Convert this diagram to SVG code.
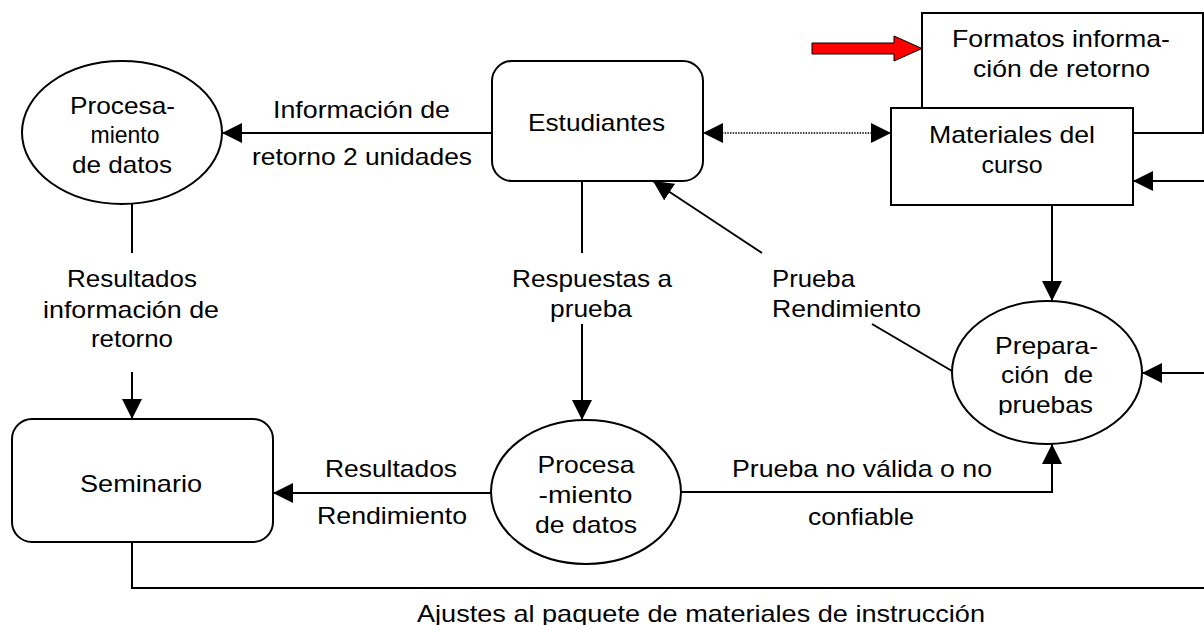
<svg xmlns="http://www.w3.org/2000/svg" width="1204" height="625" viewBox="0 0 1204 625">
<style>
.box{fill:#fff;stroke:#000;stroke-width:2}
.ln{fill:none;stroke:#000;stroke-width:2}
.t{font-family:"Liberation Sans",Arial,sans-serif;font-size:24px;fill:#000;text-anchor:middle}
.l{text-anchor:start}
</style>
<defs>
<marker id="ah" markerUnits="userSpaceOnUse" markerWidth="20" markerHeight="20" refX="20" refY="10" orient="auto-start-reverse" viewBox="0 0 20 20">
<path d="M0,0 L20,10 L0,20 Z" fill="#000" stroke="none"/>
</marker>
<clipPath id="clipPrep"><rect x="950" y="300" width="200" height="115"/></clipPath>
</defs>
<rect width="1204" height="625" fill="#fff"/>

<g id="connectors">
<line class="ln" x1="492" y1="133" x2="222" y2="133" marker-end="url(#ah)"/>
<line class="ln" x1="703" y1="133" x2="891" y2="133" stroke-dasharray="1.5,1.2" marker-start="url(#ah)" marker-end="url(#ah)" style="stroke-width:1.5"/>
<polygon points="812,43 894,43 894,36 922,48.5 894,61 894,54 812,54" fill="#f00" stroke="#000" stroke-width="1"/>
<line class="ln" x1="1052" y1="205" x2="1052" y2="301" marker-end="url(#ah)"/>
<line class="ln" x1="1204" y1="181" x2="1133" y2="181" marker-end="url(#ah)"/>
<line class="ln" x1="1204" y1="373" x2="1142" y2="373" marker-end="url(#ah)"/>
<line class="ln" x1="952" y1="371" x2="872" y2="324"/>
<line class="ln" x1="762" y1="253" x2="653" y2="181" marker-end="url(#ah)"/>
<line class="ln" x1="582" y1="181" x2="582" y2="253"/>
<line class="ln" x1="582" y1="324" x2="582" y2="420" marker-end="url(#ah)"/>
<line class="ln" x1="132" y1="204" x2="132" y2="253"/>
<line class="ln" x1="132" y1="372" x2="132" y2="419" marker-end="url(#ah)"/>
<line class="ln" x1="491" y1="493" x2="273" y2="493" marker-end="url(#ah)"/>
<polyline class="ln" points="681,492 1052,492 1052,444" marker-end="url(#ah)"/>
<polyline class="ln" points="132,542 132,588 1204,588"/>
</g>

<g id="procesamiento-1">
<ellipse class="box" cx="122" cy="132.5" rx="100" ry="71.5"/>
<text class="t" x="122.5" y="114" textLength="105" lengthAdjust="spacingAndGlyphs">Procesa-</text>
<text class="t" x="125" y="143" textLength="69" lengthAdjust="spacingAndGlyphs">miento</text>
<text class="t" x="122" y="173" textLength="100" lengthAdjust="spacingAndGlyphs">de datos</text>
</g>

<g id="estudiantes">
<rect class="box" x="492" y="61" width="211" height="120" rx="20"/>
<text class="t" x="596.5" y="131" textLength="137" lengthAdjust="spacingAndGlyphs">Estudiantes</text>
</g>

<g id="formatos">
<rect class="box" x="922" y="13" width="281" height="120"/>
<text class="t" x="1061" y="47" textLength="218" lengthAdjust="spacingAndGlyphs">Formatos informa-</text>
<text class="t" x="1061.5" y="77" textLength="177" lengthAdjust="spacingAndGlyphs">ción de retorno</text>
</g>

<g id="materiales">
<rect class="box" x="891" y="108" width="242" height="97"/>
<text class="t" x="1012" y="143" textLength="166" lengthAdjust="spacingAndGlyphs">Materiales del</text>
<text class="t" x="1012" y="173" textLength="61" lengthAdjust="spacingAndGlyphs">curso</text>
</g>

<g id="preparacion">
<ellipse class="box" cx="1047" cy="372.5" rx="95" ry="71.5"/>
<text class="t" x="1046.5" y="354" textLength="103" lengthAdjust="spacingAndGlyphs">Prepara-</text>
<text class="t" x="1047" y="383" textLength="92" lengthAdjust="spacingAndGlyphs" xml:space="preserve">ción  de</text>
<text class="t" x="1045.5" y="413" textLength="95" lengthAdjust="spacingAndGlyphs" clip-path="url(#clipPrep)">pruebas</text>
</g>

<g id="seminario">
<rect class="box" x="12" y="419" width="261" height="123" rx="20"/>
<text class="t" x="141" y="492" textLength="122" lengthAdjust="spacingAndGlyphs">Seminario</text>
</g>

<g id="procesamiento-2">
<ellipse class="box" cx="586" cy="492" rx="95" ry="72"/>
<text class="t" x="586" y="473" textLength="97" lengthAdjust="spacingAndGlyphs">Procesa</text>
<text class="t" x="585.5" y="503" textLength="94" lengthAdjust="spacingAndGlyphs">-miento</text>
<text class="t" x="586" y="533" textLength="102" lengthAdjust="spacingAndGlyphs">de datos</text>
</g>

<g id="labels">
<text class="t" x="361.5" y="118" textLength="177" lengthAdjust="spacingAndGlyphs">Información de</text>
<text class="t" x="362" y="165" textLength="220" lengthAdjust="spacingAndGlyphs">retorno 2 unidades</text>
<text class="t" x="132" y="287" textLength="130" lengthAdjust="spacingAndGlyphs">Resultados</text>
<text class="t" x="131" y="318" textLength="176" lengthAdjust="spacingAndGlyphs">información de</text>
<text class="t" x="132" y="347" textLength="82" lengthAdjust="spacingAndGlyphs">retorno</text>
<text class="t" x="592" y="287" textLength="160" lengthAdjust="spacingAndGlyphs">Respuestas a</text>
<text class="t" x="591" y="317" textLength="82" lengthAdjust="spacingAndGlyphs">prueba</text>
<text class="t l" x="772" y="287" textLength="83" lengthAdjust="spacingAndGlyphs">Prueba</text>
<text class="t l" x="772" y="317" textLength="149" lengthAdjust="spacingAndGlyphs">Rendimiento</text>
<text class="t" x="391" y="477" textLength="132" lengthAdjust="spacingAndGlyphs">Resultados</text>
<text class="t" x="392" y="524" textLength="150" lengthAdjust="spacingAndGlyphs">Rendimiento</text>
<text class="t" x="862" y="477" textLength="260" lengthAdjust="spacingAndGlyphs">Prueba no válida o no</text>
<text class="t" x="861" y="525" textLength="106" lengthAdjust="spacingAndGlyphs">confiable</text>
<text class="t" x="701" y="622" textLength="568" lengthAdjust="spacingAndGlyphs">Ajustes al paquete de materiales de instrucción</text>
</g>
</svg>
